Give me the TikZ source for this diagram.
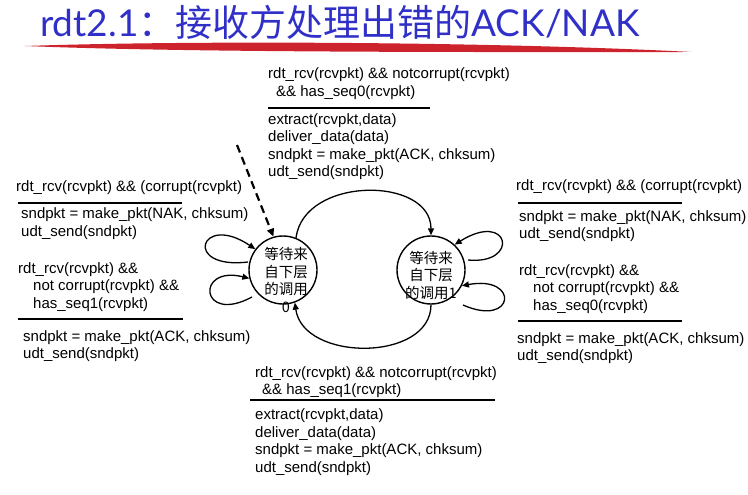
\documentclass[tikz,border=0pt]{standalone}
\usepackage{fontspec}
\setmainfont{Liberation Sans}
\newfontfamily\cjk{Noto Sans CJK SC}
\newfontfamily\titlefont{Lato}
\usetikzlibrary{arrows.meta}

\definecolor{titleblue}{RGB}{48,48,200}
\definecolor{brushred}{RGB}{205,35,45}

\tikzset{
    state/.style={circle, draw, line width=1.4pt, minimum size=68pt, inner sep=0pt},
    statetext/.style={align=center, inner sep=0pt, font=\cjk\fontsize{14.5}{17.5}\selectfont},
    txt/.style={anchor=base west, align=left, inner sep=0pt, font=\fontsize{15}{17.5}\selectfont},
    edge/.style={line width=1.3pt, -{Triangle[length=7pt,width=6pt]}},
    initedge/.style={line width=2.2pt, dash pattern=on 8pt off 5pt, -{Triangle[length=8pt,width=7pt]}},
    bar/.style={line width=2pt}
}

\begin{document}
\begin{tikzpicture}[x=1pt, y=-1pt]
    \useasboundingbox (0,0) rectangle (748,495);

    % title and brush stroke
    \node[anchor=base west, inner sep=0pt, text=titleblue] (title) at (40,37)
        {\fontsize{37}{42}\selectfont\titlefont rdt2.1\cjk ：接收方处理出错的\titlefont ACK/NAK};
    \fill[brushred] (25,46) .. controls (200,40) and (500,42) .. (692,52)
        .. controls (500,52) and (200,53) .. (25,46) -- cycle;

    % states
    \node[state] (s0) at (283,270) {};
    \node[state] (s1) at (431,270) {};
    \node[statetext] (s0txt) at (286,280) {等待来\\自下层\\的调用\\0};
    \node[statetext] (s1txt) at (431,275) {等待来\\自下层\\的调用1};

    % initial transition
    \coordinate (init) at (237,145);
    \draw[initedge] (init) -- (s0.106);

    % transitions between the states
    \draw[edge] (s0.68) .. controls (304,176) and (431,176) .. (s1.north);
    \draw[edge] (s1.south) .. controls (431,362) and (303,362) .. (s0.-70);

    % self loops
    \coordinate (t0a) at (248,262);
    \coordinate (t0b) at (252,297);
    \coordinate (t1a) at (468,260);
    \coordinate (t1b) at (463,305);
    \draw[edge] (t0a) .. controls (182,270) and (200,212) .. (s0.143);
    \draw[edge] (t0b) .. controls (200,325) and (195,265) .. (s0.194);
    \draw[edge] (t1a) .. controls (520,265) and (510,210) .. (s1.47);
    \draw[edge] (t1b) .. controls (515,328) and (520,275) .. (s1.-27);

    % top transition 0 -> 1 (base = last line)
    \node[txt] (cond01) at (268,96.5) {rdt\_rcv(rcvpkt) \&\& notcorrupt(rcvpkt)\\\hspace{8pt}\&\& has\_seq0(rcvpkt)};
    \draw[bar] (268,108) -- (430,108);
    \node[txt] (act01) at (268,176.5) {extract(rcvpkt,data)\\deliver\_data(data)\\sndpkt = make\_pkt(ACK, chksum)\\udt\_send(sndpkt)};

    % bottom transition 1 -> 0
    \node[txt] (cond10) at (255,394.5) {rdt\_rcv(rcvpkt) \&\& notcorrupt(rcvpkt)\\\hspace{7pt}\&\& has\_seq1(rcvpkt)};
    \draw[bar] (250,400) -- (495,400);
    \node[txt] (act10) at (255,472) {extract(rcvpkt,data)\\deliver\_data(data)\\sndpkt = make\_pkt(ACK, chksum)\\udt\_send(sndpkt)};

    % loops of state 0
    \node[txt] (corr0) at (16,191) {rdt\_rcv(rcvpkt) \&\& (corrupt(rcvpkt)};
    \draw[bar] (18,203) -- (182,203);
    \node[txt] (nak0) at (21,236.5) {sndpkt = make\_pkt(NAK, chksum)\\udt\_send(sndpkt)};
    \node[txt] (dup0) at (18,308) {rdt\_rcv(rcvpkt) \&\&\\\hspace{15pt}not corrupt(rcvpkt) \&\&\\\hspace{15pt}has\_seq1(rcvpkt)};
    \draw[bar] (18,319) -- (183,319);
    \node[txt] (ack0) at (23,358.5) {sndpkt = make\_pkt(ACK, chksum)\\udt\_send(sndpkt)};

    % loops of state 1
    \node[txt] (corr1) at (516,190) {rdt\_rcv(rcvpkt) \&\& (corrupt(rcvpkt)};
    \draw[bar] (518,203) -- (682,203);
    \node[txt] (nak1) at (519,238.5) {sndpkt = make\_pkt(NAK, chksum)\\udt\_send(sndpkt)};
    \node[txt] (dup1) at (519,310) {rdt\_rcv(rcvpkt) \&\&\\\hspace{14pt}not corrupt(rcvpkt) \&\&\\\hspace{14pt}has\_seq0(rcvpkt)};
    \draw[bar] (518,321) -- (682,321);
    \node[txt] (ack1) at (517,360.5) {sndpkt = make\_pkt(ACK, chksum)\\udt\_send(sndpkt)};
\end{tikzpicture}
\end{document}
